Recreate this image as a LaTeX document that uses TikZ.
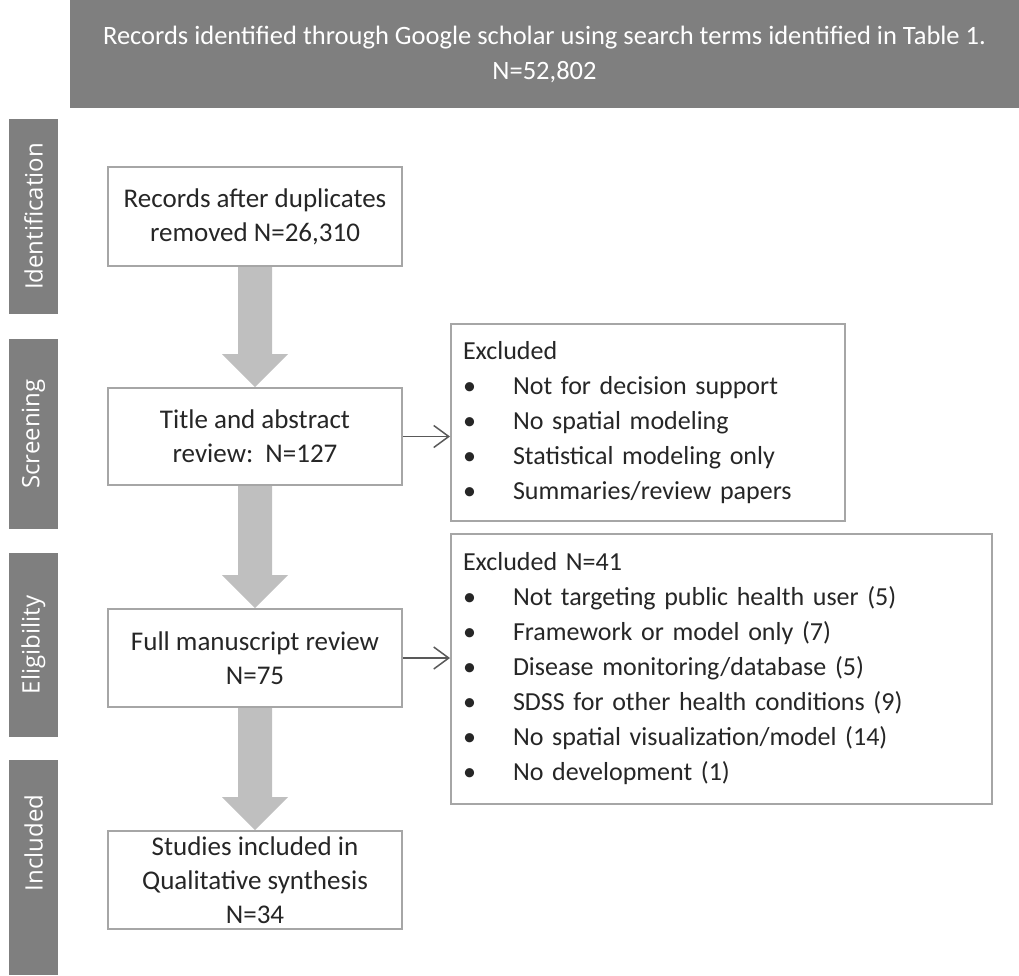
\documentclass[tikz,border=0pt]{standalone}
\usepackage{fontspec}
\setmainfont{Carlito}
\newfontfamily\sidefont{Open Sans}
\usetikzlibrary{arrows.meta,calc,backgrounds}
\definecolor{barfill}{HTML}{7F7F7F}
\definecolor{boxline}{HTML}{A6A6A6}
\definecolor{fatfill}{HTML}{BFBFBF}
\definecolor{connline}{HTML}{595959}
\definecolor{txt}{HTML}{262626}
\newcommand\fatarrow[2]{%
  \fill[fatfill] ($(#1.south)+(-17,0)$) -- ($(#2.north)+(-17,-33)$) -- ($(#2.north)+(-33,-33)$) -- (#2.north)
   -- ($(#2.north)+(33,-33)$) -- ($(#2.north)+(17,-33)$) -- ($(#1.south)+(17,0)$) -- cycle;}
\newcommand\bul{\makebox[50pt][l]{\textbullet}}
\begin{document}
\begin{tikzpicture}[x=1pt,y=-1pt,
  stagebox/.style={draw=boxline, line width=2pt, fill=white, minimum width=294pt, inner sep=0pt,
    align=center, text=txt, font=\fontsize{27}{34}\selectfont},
  exclbox/.style={draw=boxline, line width=2pt, fill=white, inner xsep=12pt, inner ysep=0pt,
    align=left, text=txt},
  sidebar/.style={fill=barfill, rotate=90, minimum height=49pt, inner sep=0pt, text=white,
    font=\sidefont\fontsize{24}{26}\selectfont},
  banner/.style={fill=barfill, minimum width=949pt, minimum height=108pt, inner sep=0pt,
    align=center, text=white, font=\fontsize{26.5}{35}\selectfont},
  thinarrow/.style={draw=connline, line width=1.5pt, -{Straight Barb[length=15pt,width=22pt]}}]
\useasboundingbox (0,0) rectangle (1019,975);

\node[banner] (top) at (544.5,54) {Records identified through Google scholar using search terms identified in Table 1.\\N=52,802};

\node[sidebar, minimum width=195pt] (sid) at (33.5,216.5) {Identification};
\node[sidebar, minimum width=190pt] (ssc) at (33.5,434) {Screening};
\node[sidebar, minimum width=184pt] (sel) at (33.5,645) {Eligibility};
\fill[barfill] (9,900) rectangle (58,975);
\node[sidebar, minimum width=166pt] (sin) at (33.5,843) {Included};

\node[stagebox, minimum height=99pt] (b1) at (255,216.5) {Records after duplicates\\removed N=26,310};
\node[stagebox, minimum height=97pt] (b2) at (255,436.5) {Title and abstract\\review:\ \ N=127};
\node[stagebox, minimum height=98pt] (b3) at (255,658) {Full manuscript review\\N=75};
\node[stagebox, minimum height=98pt] (b4) at (255,880) {Studies included in\\Qualitative synthesis\\N=34};

\node[exclbox, text width=370pt, minimum height=197pt, font=\fontsize{26}{35}\selectfont] (x1) at (648,422.5)
 {Excluded\\
  \bul Not for decision support\\
  \bul No spatial modeling\\
  \bul Statistical modeling only\\
  \bul Summaries/review papers};
\node[exclbox, text width=517pt, minimum height=270pt, font=\fontsize{26}{35}\selectfont] (x2) at (721.5,669)
 {Excluded N=41\\
  \bul Not targeting public health user (5)\\
  \bul Framework or model only (7)\\
  \bul Disease monitoring/database (5)\\
  \bul SDSS for other health conditions (9)\\
  \bul No spatial visualization/model (14)\\
  \bul No development (1)};

\begin{scope}[on background layer]
\fatarrow{b1}{b2}
\fatarrow{b2}{b3}
\fatarrow{b3}{b4}
\end{scope}

\draw[thinarrow] (b2.east) -- (b2.east -| x1.west);
\draw[thinarrow] (b3.east) -- (b3.east -| x2.west);
\end{tikzpicture}
\end{document}
